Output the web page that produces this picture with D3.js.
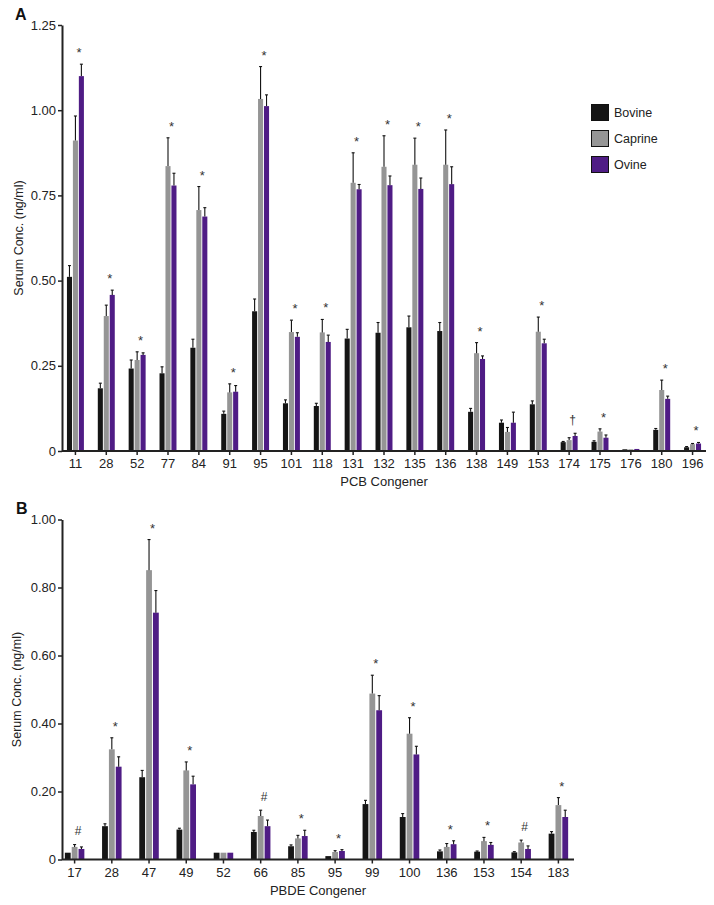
<!DOCTYPE html>
<html>
<head>
<meta charset="utf-8">
<script src="https://cdn.jsdelivr.net/npm/d3@7"></script>
<style>
	body{margin:0;background:#fff;}
	svg{display:block;font-family:"Liberation Sans",Arial,sans-serif;}
</style>
</head>
<body>
<div id="chart_div"></div>
<script>
////////////////////////////////////////
////////////////////////////////////////
////////////////////////////////////////

var seriesNames = ['Bovine','Caprine','Ovine'];
var seriesColors = ['#151515','#959595','#4f1c85'];

// PCB congeners (panel A)
var pcbCats = ['11','28','52','77','84','91','95','101','118','131','132','135','136','138','149','153','174','175','176','180','196'];
var pcbBovine = [0.511,0.184,0.242,0.228,0.303,0.109,0.410,0.140,0.132,0.330,0.347,0.363,0.352,0.115,0.083,0.137,0.026,0.027,0.005,0.062,0.011];
var pcbBovineSem = [0.033,0.015,0.025,0.019,0.025,0.008,0.036,0.010,0.008,0.027,0.030,0.033,0.025,0.010,0.008,0.010,0.002,0.003,0.001,0.004,0.002];
var pcbCaprine = [0.911,0.396,0.267,0.836,0.707,0.172,1.033,0.349,0.348,0.787,0.834,0.840,0.840,0.287,0.056,0.350,0.032,0.057,0.005,0.179,0.020];
var pcbCaprineSem = [0.072,0.032,0.024,0.083,0.069,0.025,0.095,0.035,0.038,0.088,0.091,0.078,0.102,0.031,0.013,0.043,0.007,0.008,0.001,0.029,0.002];
var pcbOvine = [1.100,0.458,0.282,0.779,0.688,0.174,1.012,0.335,0.320,0.768,0.780,0.769,0.783,0.270,0.083,0.316,0.044,0.039,0.006,0.153,0.022];
var pcbOvineSem = [0.035,0.014,0.006,0.036,0.026,0.018,0.033,0.012,0.020,0.014,0.027,0.032,0.051,0.009,0.031,0.012,0.008,0.008,0.001,0.008,0.003];
var pcbMarks = ['*','*','*','*','*','*','*','*','*','*','*','*','*','*','','*','\u2020','*','','*','*'];
var pcbTicks = [0,0.25,0.5,0.75,1,1.25];
var pcbTickLabels = ['0','0.25','0.50','0.75','1.00','1.25'];

// PBDE congeners (panel B)
var pbdeCats = ['17','28','47','49','52','66','85','95','99','100','136','153','154','183'];
var pbdeBovine = [0.020,0.098,0.242,0.088,0.020,0.081,0.039,0.010,0.163,0.125,0.024,0.023,0.021,0.076];
var pbdeBovineSem = [0.001,0.007,0.020,0.004,0.001,0.005,0.004,0.001,0.011,0.010,0.004,0.002,0.002,0.006];
var pbdeCaprine = [0.037,0.324,0.851,0.262,0.020,0.128,0.062,0.022,0.488,0.370,0.037,0.054,0.050,0.160];
var pbdeCaprineSem = [0.007,0.034,0.090,0.025,0.001,0.017,0.009,0.004,0.054,0.047,0.010,0.011,0.007,0.022];
var pbdeOvine = [0.031,0.273,0.726,0.221,0.020,0.098,0.069,0.025,0.439,0.309,0.045,0.043,0.031,0.125];
var pbdeOvineSem = [0.006,0.029,0.065,0.024,0.001,0.018,0.017,0.004,0.043,0.024,0.010,0.007,0.009,0.020];
var pbdeMarks = ['#','*','*','*','','#','*','*','*','*','*','*','#','*'];
var pbdeTicks = [0,0.2,0.4,0.6,0.8,1];
var pbdeTickLabels = ['0','0.20','0.40','0.60','0.80','1.00'];

////////////////////////////////////////
////////////////////////////////////////
////////////////////////////////////////

var chart_w = 714;
var chart_h = 905;
var inkColor = '#222';

var chartSVG = d3.select('#chart_div').append('svg')
	.attr('width',chart_w)
	.attr('height',chart_h);

function drawPanel(opt){
	var g = chartSVG.append('g');

	var y = d3.scaleLinear()
		.domain([0,opt.ticks[opt.ticks.length-1]])
		.range([opt.bottom,opt.top]);

	var x0 = d3.scaleBand()
		.domain(opt.cats)
		.range([opt.left,opt.right])
		.paddingInner(opt.groupPad)
		.paddingOuter(opt.groupPad/2);

	var x1 = d3.scaleBand()
		.domain(seriesNames)
		.range([0,x0.bandwidth()])
		.paddingInner(0.15);

	var rows = opt.cats.map(function(c,i){
		return {
			cat:c,
			mark:opt.marks[i],
			vals:seriesNames.map(function(s,j){
				return {name:s,color:seriesColors[j],v:opt.values[j][i],sem:opt.sems[j][i]};
			})
		};
	});

	var groups = g.selectAll('.grp')
		.data(rows)
		.enter().append('g')
		.attr('transform',function(d){ return 'translate('+x0(d.cat)+',0)'; });

	groups.selectAll('rect')
		.data(function(d){ return d.vals; })
		.enter().append('rect')
		.attr('x',function(d){ return x1(d.name); })
		.attr('width',x1.bandwidth())
		.attr('y',function(d){ return y(d.v); })
		.attr('height',function(d){ return y(0)-y(d.v); })
		.attr('fill',function(d){ return d.color; });

	// upper error whiskers
	var whisk = groups.selectAll('.err')
		.data(function(d){ return d.vals.filter(function(e){ return e.sem>0.001; }); })
		.enter().append('g')
		.attr('stroke','#111')
		.attr('stroke-width',1.1);
	whisk.append('line')
		.attr('x1',function(d){ return x1(d.name)+x1.bandwidth()/2; })
		.attr('x2',function(d){ return x1(d.name)+x1.bandwidth()/2; })
		.attr('y1',function(d){ return y(d.v); })
		.attr('y2',function(d){ return y(d.v+d.sem); });
	whisk.append('line')
		.attr('x1',function(d){ return x1(d.name)+x1.bandwidth()/2-1.5; })
		.attr('x2',function(d){ return x1(d.name)+x1.bandwidth()/2+1.5; })
		.attr('y1',function(d){ return y(d.v+d.sem); })
		.attr('y2',function(d){ return y(d.v+d.sem); });

	// significance marks
	groups.append('text')
		.attr('x',x0.bandwidth()/2+3.5)
		.attr('y',function(d){
			var top = d3.max(d.vals,function(e){ return e.v+e.sem; });
			return y(top)-14+(d.mark==='*'?7:4.5);
		})
		.attr('text-anchor','middle')
		.attr('font-size',function(d){ return d.mark==='*'?13:12; })
		.attr('fill','#333')
		.text(function(d){ return d.mark; });

	// y axis
	var yAxis = d3.axisLeft(y)
		.tickValues(opt.ticks)
		.tickFormat(function(d,i){ return opt.tickLabels[i]; })
		.tickSize(4)
		.tickSizeOuter(0);
	var ya = g.append('g')
		.attr('transform','translate('+opt.axisX+',0)')
		.call(yAxis);
	ya.select('.domain').attr('stroke',inkColor).attr('stroke-width',2);
	ya.selectAll('.tick line').attr('stroke',inkColor).attr('stroke-width',1.5);
	ya.selectAll('.tick text')
		.attr('x',-6)
		.attr('font-size',13)
		.attr('font-family','"Liberation Sans",Arial,sans-serif')
		.attr('fill',inkColor);

	// x axis
	var xAxis = d3.axisBottom(x0)
		.tickSize(4)
		.tickSizeOuter(0)
		.tickPadding(4);
	var xa = g.append('g')
		.attr('transform','translate(0,'+opt.bottom+')')
		.call(xAxis);
	xa.select('.domain')
		.attr('d','M'+opt.axisX+',0H'+opt.axisEnd)
		.attr('stroke',inkColor)
		.attr('stroke-width',2.2);
	xa.selectAll('.tick line').attr('stroke',inkColor).attr('stroke-width',1.5);
	xa.selectAll('.tick text')
		.attr('font-size',13)
		.attr('font-family','"Liberation Sans",Arial,sans-serif')
		.attr('fill',inkColor);

	g.append('text')
		.attr('x',(opt.axisX+opt.axisEnd)/2)
		.attr('y',opt.bottom+35)
		.attr('text-anchor','middle')
		.attr('font-size',13)
		.attr('fill',inkColor)
		.text(opt.xTitle);

	g.append('text')
		.attr('transform','translate('+opt.yTitleX+','+(opt.top+opt.bottom)/2+') rotate(-90)')
		.attr('text-anchor','middle')
		.attr('font-size',12.5)
		.attr('fill',inkColor)
		.text('Serum Conc. (ng/ml)');

	g.append('text')
		.attr('x',opt.letterX)
		.attr('y',opt.letterY)
		.attr('font-size',16)
		.attr('font-weight','bold')
		.attr('fill','#111')
		.text(opt.letter);
}

////////////////////////////////////////
////////////////////////////////////////
////////////////////////////////////////

drawPanel({
	letter:'A',letterX:15,letterY:20,
	cats:pcbCats,
	values:[pcbBovine,pcbCaprine,pcbOvine],
	sems:[pcbBovineSem,pcbCaprineSem,pcbOvineSem],
	marks:pcbMarks,
	ticks:pcbTicks,tickLabels:pcbTickLabels,
	top:25,bottom:451,
	left:60,right:708,groupPad:0.45,
	axisX:62,axisEnd:706,
	yTitleX:23,
	xTitle:'PCB Congener'
});

drawPanel({
	letter:'B',letterX:16,letterY:514,
	cats:pbdeCats,
	values:[pbdeBovine,pbdeCaprine,pbdeOvine],
	sems:[pbdeBovineSem,pbdeCaprineSem,pbdeOvineSem],
	marks:pbdeMarks,
	ticks:pbdeTicks,tickLabels:pbdeTickLabels,
	top:519.5,bottom:859.5,
	left:56,right:577,groupPad:0.476,
	axisX:62,axisEnd:574,
	yTitleX:21,
	xTitle:'PBDE Congener'
});

////////////////////////////////////////
////////////////////////////////////////
////////////////////////////////////////

var legend = chartSVG.append('g')
	.attr('transform','translate(591,104)');

var legendItems = legend.selectAll('g')
	.data(seriesNames)
	.enter().append('g')
	.attr('transform',function(d,i){ return 'translate(0,'+(i*26)+')'; });

legendItems.append('rect')
	.attr('x',0.5)
	.attr('y',0.5)
	.attr('width',17)
	.attr('height',16)
	.attr('fill',function(d,i){ return seriesColors[i]; })
	.attr('stroke','#111')
	.attr('stroke-width',1);

legendItems.append('text')
	.attr('x',23)
	.attr('y',13)
	.attr('font-size',12.5)
	.attr('fill',inkColor)
	.text(function(d){ return d; });
</script>
</body>
</html>
